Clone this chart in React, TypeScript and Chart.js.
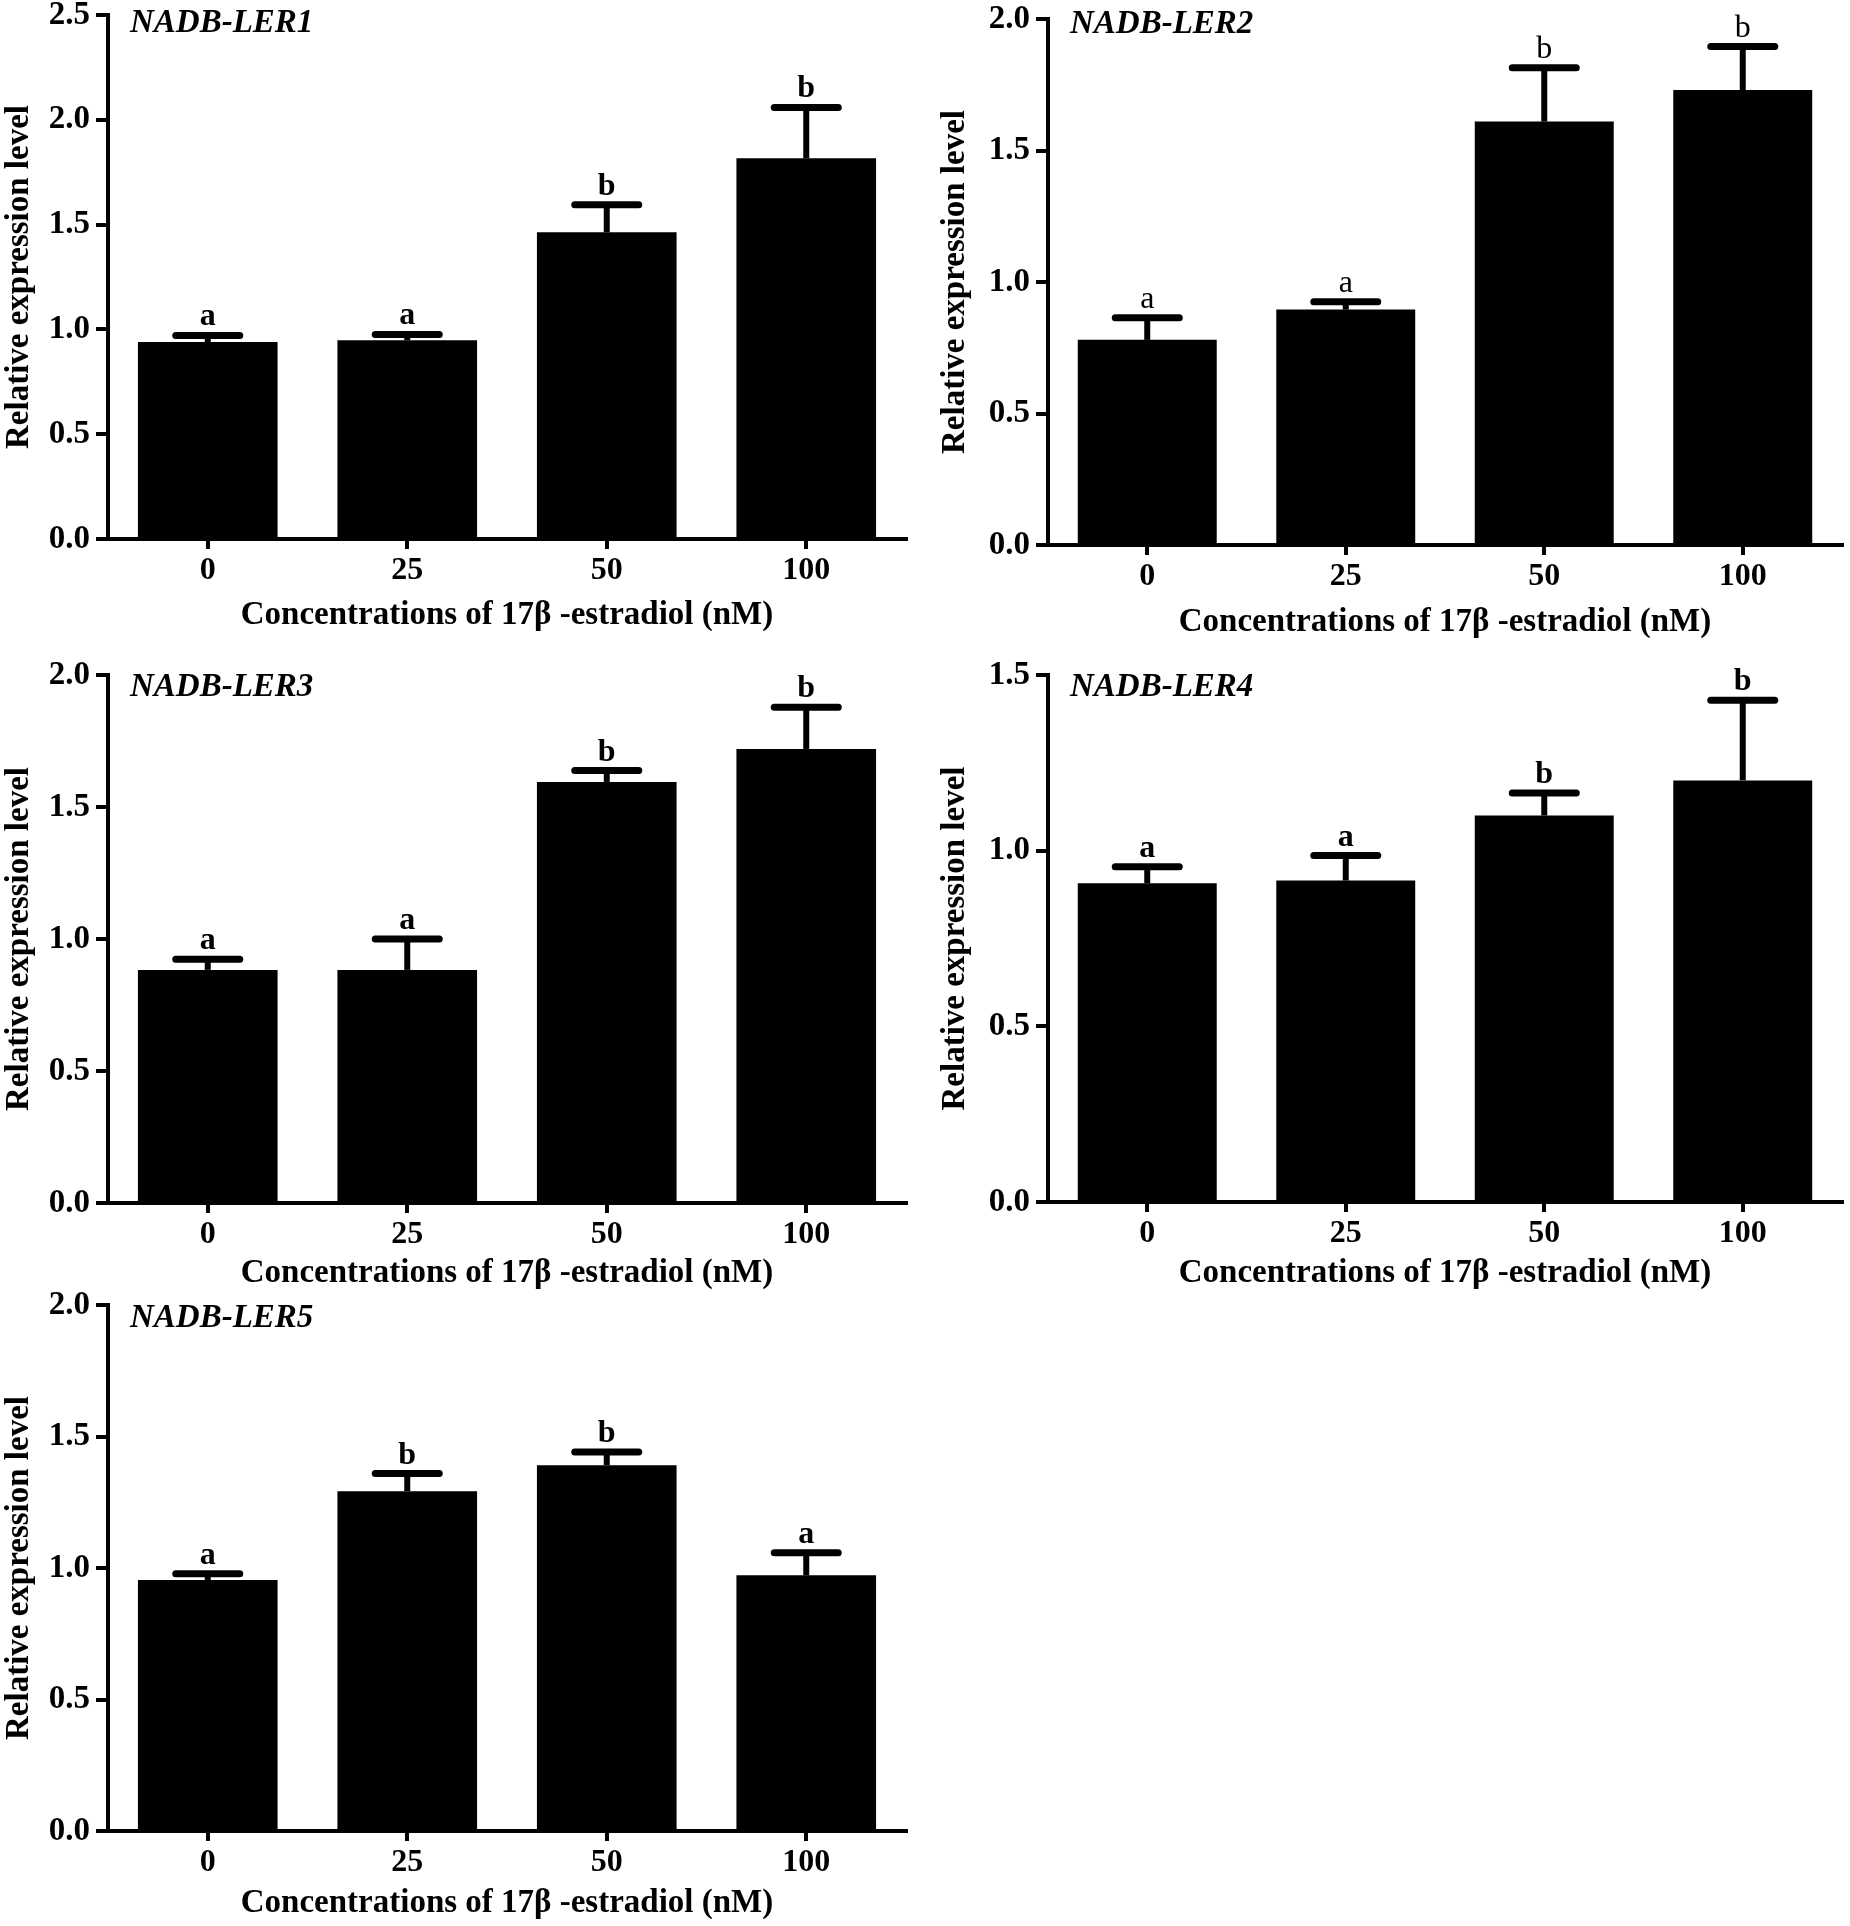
import React, { useEffect, useRef } from "react";
import { Chart, registerables } from "chart.js";

Chart.register(...registerables);

// ---------- data ----------
const CONCENTRATIONS = ["0", "25", "50", "100"];
const GENE_NAMES = ["NADB-LER1", "NADB-LER2", "NADB-LER3", "NADB-LER4", "NADB-LER5"];

const LER1_MEAN = [0.94, 0.948, 1.463, 1.816];
const LER1_ERR = [0.031, 0.028, 0.132, 0.243];
const LER1_LETTERS = ["a", "a", "b", "b"];

const LER2_MEAN = [0.78, 0.895, 1.61, 1.73];
const LER2_ERR = [0.084, 0.03, 0.205, 0.165];
const LER2_LETTERS = ["a", "a", "b", "b"];

const LER3_MEAN = [0.883, 0.883, 1.595, 1.72];
const LER3_ERR = [0.04, 0.117, 0.043, 0.158];
const LER3_LETTERS = ["a", "a", "b", "b"];

const LER4_MEAN = [0.907, 0.915, 1.1, 1.2];
const LER4_ERR = [0.047, 0.071, 0.064, 0.228];
const LER4_LETTERS = ["a", "a", "b", "b"];

const LER5_MEAN = [0.954, 1.292, 1.391, 0.972];
const LER5_ERR = [0.024, 0.067, 0.05, 0.086];
const LER5_LETTERS = ["a", "b", "b", "a"];

const Y_MAX = [2.5, 2.0, 2.0, 1.5, 2.0];
const Y_STEP = 0.5;

const MEANS = [LER1_MEAN, LER2_MEAN, LER3_MEAN, LER4_MEAN, LER5_MEAN];
const ERRS = [LER1_ERR, LER2_ERR, LER3_ERR, LER4_ERR, LER5_ERR];
const LETTERS = [LER1_LETTERS, LER2_LETTERS, LER3_LETTERS, LER4_LETTERS, LER5_LETTERS];

const X_TITLE = "Concentrations of 17\u03b2 -estradiol (nM)";
const Y_TITLE = "Relative expression level";

// ---------- layout ----------
const FONT = "'Liberation Serif', 'Times New Roman', serif";
const COL_LEFT = [0, 925];
const COL_WIDTH = 925;
const TOP_PAD = 40;
const X_AXIS_H = 100;
const AXIS_TITLE_SIZE = 33;

const LAYOUT = [
  { col: 0, axisX: 108, right: 906, topY: 15, zeroY: 539, titleOff: 76, yTitlePad: 0, nameDy: 6, letterBold: true },
  { col: 1, axisX: 1048, right: 1842, topY: 19, zeroY: 545, titleOff: 77, yTitlePad: 11, nameDy: 3, letterBold: false },
  { col: 0, axisX: 108, right: 906, topY: 675, zeroY: 1203, titleOff: 70, yTitlePad: 0, nameDy: 10, letterBold: true },
  { col: 1, axisX: 1048, right: 1842, topY: 675, zeroY: 1202, titleOff: 71, yTitlePad: 11, nameDy: 10, letterBold: true },
  { col: 0, axisX: 108, right: 906, topY: 1305, zeroY: 1831, titleOff: 72, yTitlePad: 0, nameDy: 11, letterBold: true },
];

function makeOverlay(index: number) {
  const lay = LAYOUT[index];
  return {
    id: "errorsAndLabels" + index,
    afterDatasetsDraw(chart: any) {
      const ctx = chart.ctx as CanvasRenderingContext2D;
      const yScale = chart.scales.y;
      const meta = chart.getDatasetMeta(0);
      const means = MEANS[index];
      const errs = ERRS[index];
      const letters = LETTERS[index];
      ctx.save();
      ctx.strokeStyle = "#000";
      ctx.fillStyle = "#000";
      meta.data.forEach((bar: any, i: number) => {
        const x = bar.x;
        const yBar = yScale.getPixelForValue(means[i]);
        const yTop = yScale.getPixelForValue(means[i] + errs[i]);
        ctx.lineWidth = 6;
        ctx.lineCap = "butt";
        ctx.beginPath();
        ctx.moveTo(x, yBar);
        ctx.lineTo(x, yTop);
        ctx.stroke();
        ctx.lineWidth = 7;
        ctx.lineCap = "round";
        ctx.beginPath();
        ctx.moveTo(x - 32, yTop);
        ctx.lineTo(x + 32, yTop);
        ctx.stroke();
        ctx.font = `${lay.letterBold ? "bold " : ""}32px ${FONT}`;
        ctx.textAlign = "center";
        ctx.textBaseline = "alphabetic";
        ctx.fillText(letters[i], x, yTop - 10);
      });
      ctx.font = `italic bold 33px ${FONT}`;
      ctx.textAlign = "left";
      ctx.textBaseline = "alphabetic";
      ctx.fillText(GENE_NAMES[index], chart.chartArea.left + 22, chart.chartArea.top + lay.nameDy + 11);
      ctx.restore();
    },
  };
}

function Panel({ index }: { index: number }) {
  const ref = useRef<HTMLCanvasElement>(null);
  const lay = LAYOUT[index];
  const left = COL_LEFT[lay.col];
  const top = lay.topY - TOP_PAD;
  const width = COL_WIDTH;
  const height = lay.zeroY + X_AXIS_H - top;

  useEffect(() => {
    const canvas = ref.current;
    if (!canvas) return;
    const yAxisW = lay.axisX - left;
    const rightPad = left + COL_WIDTH - lay.right;
    const chart = new Chart(canvas, {
      type: "bar",
      data: {
        labels: CONCENTRATIONS,
        datasets: [
          {
            data: MEANS[index],
            backgroundColor: "#000",
            borderWidth: 0,
            categoryPercentage: 1,
            barPercentage: 0.7,
          },
        ],
      },
      options: {
        responsive: false,
        maintainAspectRatio: false,
        animation: false,
        devicePixelRatio: 1,
        layout: { padding: { top: TOP_PAD, right: rightPad, left: 0, bottom: 0 } },
        plugins: {
          legend: { display: false },
          tooltip: { enabled: false },
          title: { display: false },
        },
        scales: {
          x: {
            type: "category",
            offset: true,
            grid: {
              display: true,
              offset: false,
              drawOnChartArea: false,
              drawTicks: true,
              tickLength: 10,
              lineWidth: 4,
              color: "#000",
            },
            border: { display: true, color: "#000", width: 4 },
            ticks: {
              color: "#000",
              padding: 3,
              font: { family: FONT, size: 32, weight: "bold" },
              maxRotation: 0,
              autoSkip: false,
            },
            title: {
              display: true,
              text: X_TITLE,
              color: "#000",
              font: { family: FONT, size: AXIS_TITLE_SIZE, weight: "bold" },
              padding: { top: 0, bottom: X_AXIS_H - AXIS_TITLE_SIZE * 0.6 - lay.titleOff },
            },
            afterFit: (scale: any) => {
              scale.height = X_AXIS_H;
            },
          },
          y: {
            type: "linear",
            min: 0,
            max: Y_MAX[index],
            grid: {
              display: true,
              drawOnChartArea: false,
              drawTicks: true,
              tickLength: 12,
              lineWidth: 4,
              color: "#000",
            },
            border: { display: true, color: "#000", width: 4 },
            ticks: {
              stepSize: Y_STEP,
              color: "#000",
              padding: 6,
              font: { family: FONT, size: 33, weight: "bold" },
              callback: (v: any) => Number(v).toFixed(1),
            },
            title: {
              display: true,
              text: Y_TITLE,
              color: "#000",
              font: { family: FONT, size: AXIS_TITLE_SIZE, weight: "bold" },
              padding: { top: lay.yTitlePad, bottom: 0 },
            },
            afterFit: (scale: any) => {
              scale.width = yAxisW;
            },
          },
        },
      } as any,
      plugins: [makeOverlay(index)],
    });
    return () => chart.destroy();
  }, []);

  return (
    <canvas
      ref={ref}
      width={width}
      height={height}
      style={{ position: "absolute", left, top, width, height }}
    />
  );
}

export default function App() {
  return (
    <div
      style={{
        position: "absolute",
        left: 0,
        top: 0,
        width: 1850,
        height: 1926,
        overflow: "hidden",
        background: "#fff",
      }}
    >
      {LAYOUT.map((_, i) => (
        <Panel key={i} index={i} />
      ))}
    </div>
  );
}
